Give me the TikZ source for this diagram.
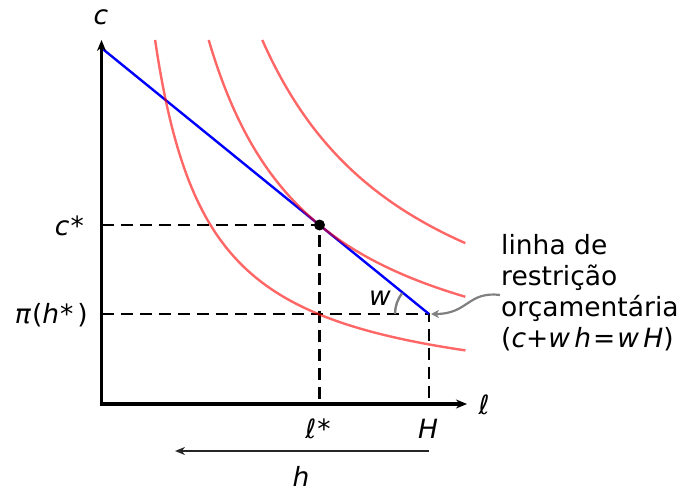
\documentclass[tikz,border=0pt]{standalone}
\usepackage{fontspec}
\setmainfont{DejaVu Sans}
\usetikzlibrary{arrows.meta}
\begin{document}
\begin{tikzpicture}[x=1pt,y=-1pt,
  axis/.style={line width=3.2pt,{Stealth[length=11pt,width=9pt]}-{Stealth[length=11pt,width=9pt]}},
  budget/.style={blue,line width=2.4pt},
  indiff/.style={red,opacity=0.6,line width=2.4pt},
  guide/.style={black,line width=2.2pt,dash pattern=on 12pt off 7pt},
  harrow/.style={black!85,line width=2pt,-{Stealth[length=10pt,width=8pt]}},
  callout/.style={black!50,line width=2.2pt,-{Stealth[length=8pt,width=8pt,inset=2.5pt]},shorten >=2pt},
  anglearc/.style={black!50,line width=2.4pt},
  lbl/.style={font=\fontsize{26.5}{31}\selectfont,inner sep=0pt},
  dot/.style={circle,fill=black,inner sep=0pt,minimum size=11pt}
]
\useasboundingbox (0,0) rectangle (681,487);
% key points
\coordinate (O) at (101.5,404);
\coordinate (ytop) at (101.5,40);
\coordinate (xend) at (467,404);
\coordinate (A) at (101.5,48);
\coordinate (Hc) at (429,314);
\coordinate (Hx) at (429,404);
\coordinate (Ex) at (319.5,404);
\coordinate (cy) at (101.5,225);
\coordinate (py) at (101.5,314);
\coordinate (E0) at (319.5,225);
% guides
\draw[guide] (cy) -- (E0) -- (Ex);
\draw[guide] (py) -- (Hc) -- (Hx);
% budget line
\draw[budget] (A) -- (Hc);
% indifference curves
\foreach \k in {1.951,3.902,5.853}{
  \pgfmathsetmacro\lo{\k/3.64}
  \draw[indiff] plot[domain=\lo:3.64,samples=150,smooth] ({101.5+100*\x},{404-100*\k/\x});
}
% optimum
\node[dot] (E) at (E0) {};
% axes
\draw[axis] (ytop) -- (O) -- (xend);
% angle
\draw[anglearc] ([shift={(180:34)}]Hc) arc[start angle=180,end angle=218,radius=34];
% h arrow
\coordinate (hs) at (429,451);
\coordinate (he) at (175,451);
\draw[harrow] (hs) -- (he);
% labels
\node[lbl,anchor=base] (lc) at (101,25) {\textit{c}};
\node[lbl,anchor=base] (ll) at (484,414) {\textit{ℓ}};
\node[lbl,anchor=base east] (lcs) at (84,235) {\textit{c}\hspace{1pt}*};
\node[lbl,anchor=base east] (lpi) at (88,323) {\textit{π}\hspace{1pt}(\textit{h}\hspace{1pt}*\hspace{4pt})};
\node[lbl,anchor=base] (lls) at (318,438) {\textit{ℓ}\hspace{1pt}*};
\node[lbl,anchor=base] (lH) at (428,438) {\textit{H}};
\node[lbl,anchor=base] (lh) at (301,486) {\textit{h}};
\node[lbl,anchor=base] (lw) at (380,305) {\textit{w}};
\node[lbl,align=left,anchor=north west] (txt) at (501,234)
  {linha de\\restrição\\orçamentária\\(\textit{c}+\textit{w\,h}\hspace{2pt}=\hspace{2pt}\textit{w\,H})};
% callout
\coordinate (cs) at (500,295);
\draw[callout] (cs) .. controls (468,291) and (468,314) .. (Hc);
\end{tikzpicture}
\end{document}
